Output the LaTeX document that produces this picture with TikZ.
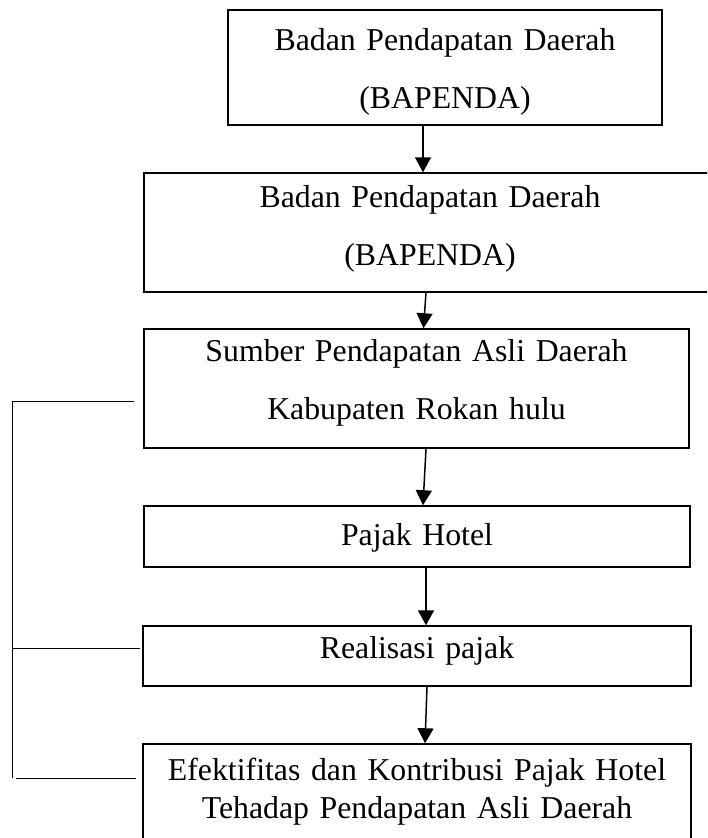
\documentclass[tikz,border=0pt]{standalone}
\usepackage{fontspec}
\setmainfont{Liberation Serif}
\usetikzlibrary{arrows.meta}
\tikzstyle{box} = [rectangle, draw=black, line width=1.5pt, inner sep=0pt, align=center, text height=21.7pt, font=\fontsize{31.8}{58}\selectfont]
\tikzstyle{arrow} = [line width=1.5pt, -{Triangle[width=16pt,length=15pt]}]
\tikzstyle{sideline} = [line width=1pt]

\begin{document}
\begin{tikzpicture}[x=1pt, y=-1pt]
    \useasboundingbox (0,0) rectangle (707,838);
    \clip (0,0) rectangle (707,838);

    \node (bapendaa) [box, minimum width=434pt, text width=434pt, minimum height=115pt, text depth=56.7pt] at (445,67.5) {Badan Pendapatan Daerah\\(BAPENDA)};
    \node (bapendab) [box, minimum width=572pt, text width=572pt, minimum height=119pt, text depth=72.7pt] at (430,232.5) {Badan Pendapatan Daerah\\(BAPENDA)};
    \node (sumber) [box, minimum width=545pt, text width=545pt, minimum height=119pt, text depth=76.7pt] at (416.5,388.5) {Sumber Pendapatan Asli Daerah\\Kabupaten Rokan hulu};
    \node (pajakhotel) [box, minimum width=546pt, text width=546pt, minimum height=61pt, text depth=4.7pt] at (417,536.5) {Pajak Hotel};
    \node (realisasi) [box, minimum width=548pt, text width=548pt, minimum height=60pt, text depth=17.7pt] at (417,656) {Realisasi pajak};
    \node (efektifitas) [box, minimum width=548pt, text width=548pt, minimum height=116pt, text depth=65.7pt, font=\fontsize{31.8}{38}\selectfont] at (417,802) {Efektifitas dan Kontribusi Pajak Hotel\\Tehadap Pendapatan Asli Daerah};

    \draw [arrow] ([xshift=-22pt]bapendaa.south) -- ([xshift=-7pt]bapendab.north);
    \draw [arrow] ([xshift=-4pt]bapendab.south) -- ([xshift=7pt]sumber.north);
    \draw [arrow] ([xshift=9.5pt]sumber.south) -- ([xshift=6pt]pajakhotel.north);
    \draw [arrow] ([xshift=9pt]pajakhotel.south) -- ([xshift=9pt]realisasi.north);
    \draw [arrow] ([xshift=10pt]realisasi.south) -- ([xshift=8pt]efektifitas.north);

    \coordinate (sidetop) at (12,401);
    \coordinate (sidemid) at (12,648);
    \coordinate (sidebot) at (12,778);
    \draw [sideline] (sidetop) -- ++(122,0);
    \draw [sideline] (sidetop) -- (sidebot);
    \draw [sideline] (sidemid) -- ++(128,0);
    \draw [sideline] ([xshift=4pt]sidebot) -- ++(120,0);

\end{tikzpicture}
\end{document}
